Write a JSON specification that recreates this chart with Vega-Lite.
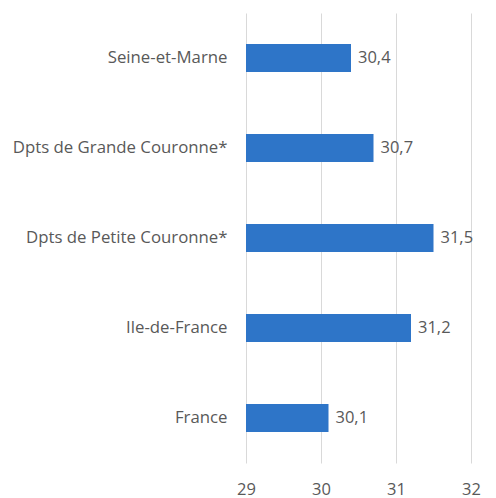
{
  "$schema": "https://vega.github.io/schema/vega-lite/v6.json",
  "width": 225,
  "height": 450,
  "autosize": {"type": "none"},
  "padding": {"left": 246, "top": 13, "right": 25, "bottom": 35},
  "background": "white",
  "config": {
    "view": {"stroke": null},
    "font": "Open Sans",
    "locale": {"number": {"decimal": ",", "thousands": " ", "grouping": [3], "currency": ["", " €"]}}
  },
  "data": {"values": [
    {"zone": "Seine-et-Marne", "value": 30.4},
    {"zone": "Dpts de Grande Couronne*", "value": 30.7},
    {"zone": "Dpts de Petite Couronne*", "value": 31.5},
    {"zone": "Ile-de-France", "value": 31.2},
    {"zone": "France", "value": 30.1}
  ]},
  "encoding": {
    "y": {"field": "zone", "type": "nominal", "sort": null, "title": null,
      "scale": {"paddingInner": 0.69, "paddingOuter": 0.345},
      "axis": {"domain": false, "ticks": false, "labelPadding": 19, "labelFontSize": 16.8, "labelColor": "#595959", "labelFont": "Open Sans", "labelLimit": 300}},
    "x": {"field": "value", "type": "quantitative", "title": null,
      "scale": {"domain": [29, 32], "nice": false, "zero": false},
      "axis": {"values": [29, 30, 31, 32], "format": "d", "domain": false, "ticks": false, "grid": true, "gridColor": "#d9d9d9", "gridWidth": 1, "labelFlush": false, "labelPadding": 18, "labelFontSize": 16.5, "labelColor": "#595959", "labelFont": "Open Sans"}}
  },
  "layer": [
    {"mark": {"type": "bar", "color": "#2E75C8"}, "encoding": {"x2": {"datum": 29}}},
    {"mark": {"type": "text", "align": "left", "dx": 7, "fontSize": 16.5, "color": "#595959", "font": "Open Sans"},
     "encoding": {"text": {"field": "value", "type": "quantitative", "format": ".1f"}}}
  ]
}
